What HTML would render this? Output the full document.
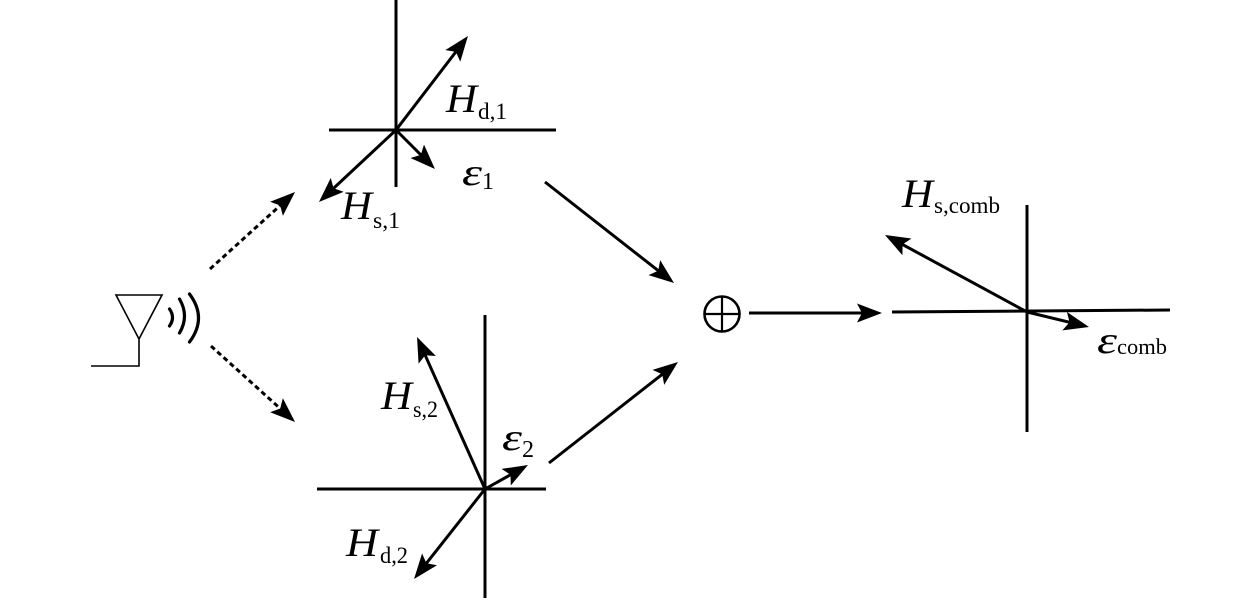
<!DOCTYPE html>
<html><head><meta charset="utf-8"><style>
html,body{margin:0;padding:0;background:#fff;}
svg{display:block;}
.it{font-family:"Liberation Serif",serif;font-style:italic;}
.rm{font-family:"Liberation Serif",serif;}
</style></head><body>
<svg width="1260" height="600" viewBox="0 0 1260 600" xmlns="http://www.w3.org/2000/svg">
<defs>
<marker id="ah" markerUnits="userSpaceOnUse" markerWidth="25" markerHeight="19" refX="17" refY="9.5" orient="auto" viewBox="0 0 25 19">
<path d="M0,0 L25,9.5 L0,19 L5,9.5 Z" fill="#000"/>
</marker>
</defs>
<g stroke="#000" fill="none">
<!-- antenna -->
<path d="M116,295 L162,295 L139,339 Z M139,339 L139,366 L91,366" stroke-width="1.6"/>
<path d="M169.5,309 Q175.5,317.5 169.5,326" stroke-width="3.2" stroke-linecap="round"/>
<path d="M179.5,299 Q189.5,316 179.5,333" stroke-width="3.2" stroke-linecap="round"/>
<path d="M189.5,294 Q207.5,318 189.5,342" stroke-width="3.2" stroke-linecap="round"/>
<!-- dotted arrows -->
<line x1="210" y1="269" x2="289.1" y2="197.4" stroke-width="3" stroke-dasharray="5 3.5" marker-end="url(#ah)"/>
<line x1="211" y1="346" x2="289.1" y2="416.6" stroke-width="3" stroke-dasharray="5 3.5" marker-end="url(#ah)"/>
<!-- top axes -->
<line x1="396" y1="0" x2="396" y2="187" stroke-width="3"/>
<line x1="329" y1="130" x2="556" y2="130" stroke-width="3"/>
<line x1="396" y1="130" x2="463.1" y2="42.4" stroke-width="3" marker-end="url(#ah)"/>
<line x1="396" y1="130" x2="324.8" y2="196.5" stroke-width="3" marker-end="url(#ah)"/>
<line x1="396" y1="130" x2="429.3" y2="163.3" stroke-width="3" marker-end="url(#ah)"/>
<!-- bottom axes -->
<line x1="485" y1="315" x2="485" y2="598" stroke-width="3"/>
<line x1="317" y1="489" x2="546" y2="489" stroke-width="3"/>
<line x1="485" y1="489" x2="420.3" y2="344.3" stroke-width="3" marker-end="url(#ah)"/>
<line x1="485" y1="489" x2="521" y2="468.9" stroke-width="3" marker-end="url(#ah)"/>
<line x1="485" y1="489" x2="419" y2="572.7" stroke-width="3" marker-end="url(#ah)"/>
<!-- to sum -->
<line x1="545" y1="182" x2="667.7" y2="278.1" stroke-width="3" marker-end="url(#ah)"/>
<line x1="549" y1="463" x2="671.7" y2="366.9" stroke-width="3" marker-end="url(#ah)"/>
<!-- sum -->
<circle cx="722" cy="314" r="17.5" stroke-width="2.6"/>
<line x1="722" y1="296.5" x2="722" y2="331.5" stroke-width="2.2"/>
<line x1="704.5" y1="314" x2="739.5" y2="314" stroke-width="2.2"/>
<line x1="749" y1="313" x2="874" y2="313" stroke-width="3" marker-end="url(#ah)"/>
<!-- right axes -->
<line x1="1027" y1="205" x2="1027" y2="432" stroke-width="3"/>
<line x1="892" y1="312" x2="1170" y2="310" stroke-width="3"/>
<line x1="1027" y1="312" x2="892" y2="238.8" stroke-width="3" marker-end="url(#ah)"/>
<line x1="1027" y1="312" x2="1081.2" y2="325.1" stroke-width="3" marker-end="url(#ah)"/>
</g>
<g fill="#000">
<text class="it" x="446" y="112" font-size="40" textLength="31" lengthAdjust="spacingAndGlyphs">H</text><text class="rm" x="478" y="119" font-size="23" textLength="29" lengthAdjust="spacingAndGlyphs">d,1</text>
<text class="it" x="341" y="219" font-size="40" textLength="31" lengthAdjust="spacingAndGlyphs">H</text><text class="rm" x="373" y="228" font-size="23" textLength="27" lengthAdjust="spacingAndGlyphs">s,1</text>
<text class="it" x="462" y="185" font-size="38" textLength="20" lengthAdjust="spacingAndGlyphs">ε</text><text class="rm" x="482" y="189" font-size="24">1</text>
<text class="it" x="381" y="409" font-size="40" textLength="31" lengthAdjust="spacingAndGlyphs">H</text><text class="rm" x="413" y="417" font-size="23" textLength="25" lengthAdjust="spacingAndGlyphs">s,2</text>
<text class="it" x="502" y="450" font-size="38" textLength="20" lengthAdjust="spacingAndGlyphs">ε</text><text class="rm" x="522" y="457" font-size="24">2</text>
<text class="it" x="346" y="556" font-size="40" textLength="32" lengthAdjust="spacingAndGlyphs">H</text><text class="rm" x="380" y="563" font-size="23" textLength="28" lengthAdjust="spacingAndGlyphs">d,2</text>
<text class="it" x="902" y="207" font-size="40" textLength="31" lengthAdjust="spacingAndGlyphs">H</text><text class="rm" x="934" y="213" font-size="23" textLength="66" lengthAdjust="spacingAndGlyphs">s,comb</text>
<text class="it" x="1097" y="353" font-size="38" textLength="20" lengthAdjust="spacingAndGlyphs">ε</text><text class="rm" x="1117" y="354" font-size="22.5" textLength="50" lengthAdjust="spacingAndGlyphs">comb</text>
</g>
</svg>
</body></html>
